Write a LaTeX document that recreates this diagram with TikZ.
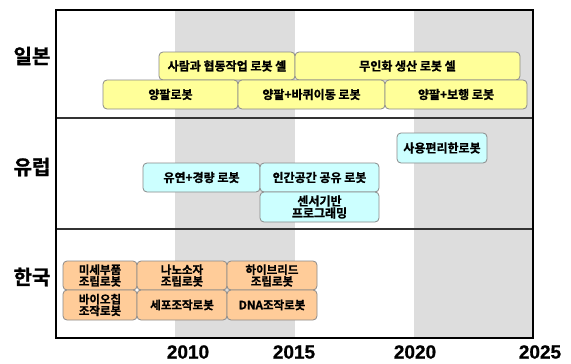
\documentclass[tikz,border=0pt]{standalone}
\usepackage{fontspec}
\newfontfamily\kr{Noto Sans CJK KR}[BoldFont={Noto Sans CJK KR Bold}, BoldFeatures={FakeBold=1.2}]
\newfontfamily\yr{Liberation Sans}[BoldFeatures={FakeBold=0.8}]
\definecolor{ylw}{HTML}{FFFF99}
\definecolor{cyn}{HTML}{CCFFFF}
\definecolor{org}{HTML}{FFCC99}
\definecolor{band}{HTML}{DDDDDD}
\definecolor{bord}{HTML}{8A8A8A}
\tikzset{
  x=1pt,y=-1pt,
  rbox/.style={draw=bord, line width=0.8pt, rounded corners=4pt, inner sep=0pt, align=center,
    font=\kr\bfseries\fontsize{12}{12}\selectfont},
  ybox/.style={rbox, fill=ylw},
  cbox/.style={rbox, fill=cyn},
  obox/.style={rbox, fill=org, font=\kr\bfseries\fontsize{11.5}{11.5}\selectfont},
  rowlab/.style={font=\kr\bfseries\fontsize{20}{20}\selectfont, inner sep=0pt},
  yearlab/.style={font=\yr\bfseries\fontsize{19}{19}\selectfont, inner sep=0pt},
}
\begin{document}
\begin{tikzpicture}
\path[use as bounding box, fill=white] (0,0) rectangle (571,364);
% bands
\fill[band] (175,10) rectangle (295,338);
\fill[band] (414,10) rectangle (533,338);
% dividers
\draw[line width=1.5pt, black!80] (56,118) -- (533,118);
\draw[line width=1.5pt, black!80] (56,229) -- (533,229);
% frame
\draw[line width=2pt] (56,10) rectangle (533,338);
% row labels
\node[rowlab] (jp) at (32,56) {일본};
\node[rowlab] (eu) at (32,167) {유럽};
\node[rowlab] (ko) at (32,277) {한국};
% years
\node[yearlab] (y2010) at (188,352) {2010};
\node[yearlab] (y2015) at (294,352) {2015};
\node[yearlab] (y2020) at (415,352) {2020};
\node[yearlab] (y2025) at (540,352) {2025};
% Japan
\node[ybox, minimum width=136pt, minimum height=28pt] (jp1) at (227,66) {사람과 협동작업 로봇 셀};
\node[ybox, minimum width=225pt, minimum height=28pt] (jp2) at (407.5,66) {무인화 생산 로봇 셀};
\node[ybox, minimum width=135pt, minimum height=29pt] (jp3) at (170.5,94.5) {양팔로봇};
\node[ybox, minimum width=147pt, minimum height=29pt] (jp4) at (311.5,94.5) {양팔+바퀴이동 로봇};
\node[ybox, minimum width=142pt, minimum height=29pt] (jp5) at (456,94.5) {양팔+보행 로봇};
% Europe
\node[cbox, minimum width=117pt, minimum height=29pt] (eu1) at (201.5,177.5) {유연+경량 로봇};
\node[cbox, minimum width=119pt, minimum height=29pt] (eu2) at (319.5,177.5) {인간공간 공유 로봇};
\node[cbox, minimum width=119pt, minimum height=30pt] (eu3) at (319.5,207) {센서기반\\프로그래밍};
\node[cbox, minimum width=90pt, minimum height=30pt] (eu4) at (442,148) {사용편리한로봇};
% Korea
\node[obox, minimum width=74pt, minimum height=29pt] (kr1) at (100,275.5) {미세부품\\조립로봇};
\node[obox, minimum width=90pt, minimum height=29pt] (kr2) at (182,275.5) {나노소자\\조립로봇};
\node[obox, minimum width=90pt, minimum height=29pt] (kr3) at (272,275.5) {하이브리드\\조립로봇};
\node[obox, minimum width=74pt, minimum height=30pt] (kr4) at (100,305) {바이오칩\\조작로봇};
\node[obox, minimum width=90pt, minimum height=30pt] (kr5) at (182,305) {세포조작로봇};
\node[obox, minimum width=90pt, minimum height=30pt] (kr6) at (272,305) {DNA조작로봇};
\end{tikzpicture}
\end{document}
